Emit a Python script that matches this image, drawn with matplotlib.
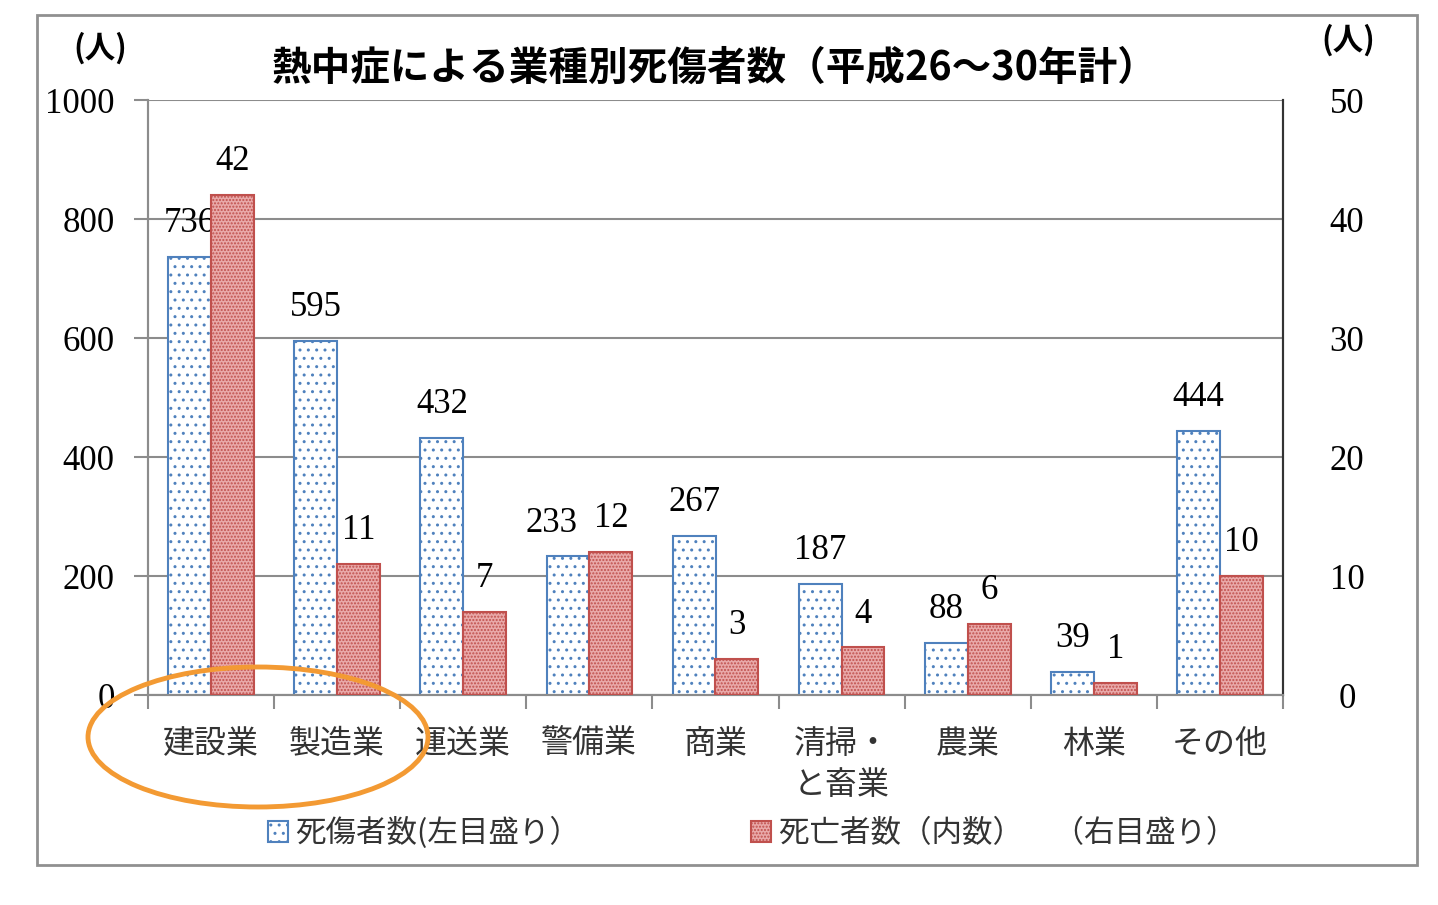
import matplotlib
matplotlib.use("Agg")
import matplotlib.pyplot as plt
import numpy as np
from matplotlib.patches import Patch, Ellipse, Rectangle

# data
categories = ["建設業", "製造業", "運送業", "警備業", "商業", "清掃・\nと畜業", "農業", "林業", "その他"]
casualties = [736, 595, 432, 233, 267, 187, 88, 39, 444]   # left axis
deaths = [42, 11, 7, 12, 3, 4, 6, 1, 10]                   # right axis
left_ticks = [0, 200, 400, 600, 800, 1000]
right_ticks = [0, 10, 20, 30, 40, 50]

title = "熱中症による業種別死傷者数（平成26～30年計）"
legend_labels = ["死傷者数(左目盛り）", "死亡者数（内数）　（右目盛り）"]

JP = ["Noto Sans CJK JP", "DejaVu Sans"]
SERIF = ["Liberation Serif", "DejaVu Serif"]
BLUE = "#4F81BD"
RED = "#C0504D"
RED_FACE = "#E9A9A9"
RED_HATCH = "....."
plt.rcParams["hatch.linewidth"] = 1.0

W, H = 1438, 905
fig = plt.figure(figsize=(W / 100, H / 100), dpi=100)
ax = fig.add_axes([148 / W, 1 - 695 / H, (1283 - 148) / W, (695 - 100) / H])
ax2 = ax.twinx()

x = np.arange(len(categories))
w = 0.34
ax.bar(x - w / 2, casualties, width=w, facecolor="white", edgecolor=BLUE,
       hatch="..", linewidth=1.5, zorder=3)
ax2.bar(x + w / 2, deaths, width=w, facecolor=RED_FACE, edgecolor=RED,
        hatch=RED_HATCH, linewidth=1.5, zorder=3)

ax.set_xlim(-0.5, len(categories) - 0.5)
ax.set_ylim(0, 1000)
ax2.set_ylim(0, 50)
ax.set_yticks(left_ticks)
ax2.set_yticks(right_ticks)
ax.yaxis.grid(True, color="#8c8c8c", linewidth=1.5, zorder=0)
ax.set_axisbelow(True)

# category boundaries as ticks, labels at centers
ax.set_xticks(np.arange(len(categories) + 1) - 0.5)
ax.set_xticklabels([])
ax.set_xticks(x, minor=True)
ax.set_xticklabels(categories, minor=True, fontsize=23, family=JP, color="#333333",
                   linespacing=1.35)
ax.tick_params(axis="x", which="major", direction="out", length=10, width=1.5, color="#8c8c8c")
ax.tick_params(axis="x", which="minor", length=0, pad=24)
for t in ax.get_xticklabels(minor=True):
    t.set_verticalalignment("top")

ax.tick_params(axis="y", direction="out", length=10, width=1.5, color="#8c8c8c", pad=14,
               labelsize=25)
ax2.tick_params(axis="y", direction="out", length=0, pad=46, labelsize=25)
for lab in ax.get_yticklabels() + ax2.get_yticklabels():
    lab.set_family(SERIF)
for lab in ax2.get_yticklabels():
    lab.set_horizontalalignment("center")

for a in (ax, ax2):
    a.spines["top"].set_visible(False)
    a.spines["left"].set_color("#8c8c8c")
    a.spines["left"].set_linewidth(1.5)
    a.spines["bottom"].set_color("#8c8c8c")
    a.spines["bottom"].set_linewidth(1.5)
    a.spines["right"].set_color("#333333")
    a.spines["right"].set_linewidth(1.5)

# value labels
blue_dx = [0, 0, 0, -12, 0, 0, 0, 0, 0]
for xi, v, dx in zip(x, casualties, blue_dx):
    ax.annotate(str(v), (xi - w / 2, v), xytext=(dx, 24), textcoords="offset points",
                ha="center", va="center", fontsize=25, family=SERIF, zorder=5)
for xi, v in zip(x, deaths):
    ax2.annotate(str(v), (xi + w / 2, v), xytext=(0, 24), textcoords="offset points",
                 ha="center", va="center", fontsize=25, family=SERIF, zorder=5)

fig.text(715 / W, 1 - 68 / H, title, ha="center", va="center", fontsize=28.5,
         fontweight="bold", family=JP)
fig.text(100 / W, 1 - 48 / H, "(人)", ha="center", va="center", fontsize=22,
         fontweight="bold", family=JP)
fig.text(1348 / W, 1 - 40 / H, "(人)", ha="center", va="center", fontsize=22,
         fontweight="bold", family=JP)

handles = [
    Patch(facecolor="white", edgecolor=BLUE, hatch="..", linewidth=1.5),
    Patch(facecolor=RED_FACE, edgecolor=RED, hatch=RED_HATCH, linewidth=1.5),
]
fig.legend(handles, legend_labels, loc="center", bbox_to_anchor=(752 / W, 1 - 833 / H),
           ncol=2, frameon=False, handlelength=0.65, handleheight=0.65, handletextpad=0.25,
           columnspacing=5.6, prop={"family": JP, "size": 22}, labelcolor="#333333")

# outer frame and highlight ellipse
fig.patches.append(Rectangle((37 / W, 1 - 865 / H), (1417 - 37) / W, (865 - 15) / H,
                             transform=fig.transFigure, fill=False, edgecolor="#909090",
                             linewidth=2))
fig.patches.append(Ellipse((258 / W, 1 - 737 / H), 340 / W, 140 / H,
                           transform=fig.transFigure, fill=False, edgecolor="#F39A33",
                           linewidth=3.5))

fig.savefig("out.png", dpi=100)
